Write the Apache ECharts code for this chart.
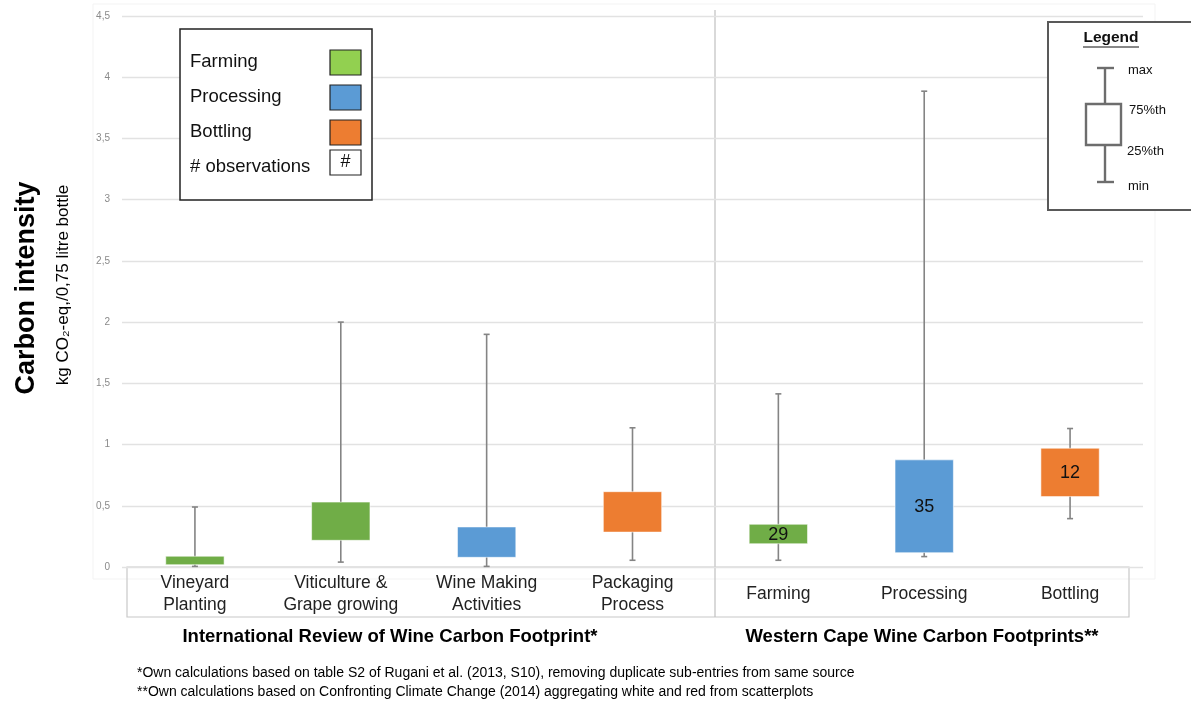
<!DOCTYPE html>
<html>
<head>
<meta charset="utf-8">
<script src="https://cdn.jsdelivr.net/npm/echarts@6/dist/echarts.min.js"></script>
<style>
html,body{margin:0;padding:0;background:#fff;}
#chart{width:1191px;height:702px;}
</style>
</head>
<body>
<div id="chart"></div>
<script>
// ---- data ----
const categories = ['Vineyard\nPlanting', 'Viticulture &\nGrape growing', 'Wine Making\nActivities', 'Packaging\nProcess', 'Farming', 'Processing', 'Bottling'];
const stage = ['Farming', 'Farming', 'Processing', 'Bottling', 'Farming', 'Processing', 'Bottling'];
const minValues = [0.005, 0.04, 0.005, 0.055, 0.055, 0.085, 0.395];
const q1Values  = [0.019, 0.218, 0.079, 0.285, 0.19, 0.117, 0.575];
const q3Values  = [0.088, 0.53, 0.327, 0.615, 0.349, 0.875, 0.97];
const maxValues = [0.49, 2.0, 1.90, 1.137, 1.414, 3.886, 1.131];
const observations = [null, null, null, null, 29, 35, 12];
const yTicks = [0, 0.5, 1, 1.5, 2, 2.5, 3, 3.5, 4, 4.5];
const groupLabels = ['International Review of Wine Carbon Footprint*', 'Western Cape Wine Carbon Footprints**'];
const footnotes = [
  '*Own calculations based on table S2 of Rugani et al. (2013, S10), removing duplicate sub-entries from same source',
  '**Own calculations based on Confronting Climate Change (2014) aggregating white and red from scatterplots'
];
const stageColors = { Farming: '#70AD47', Processing: '#5B9BD5', Bottling: '#ED7D31' };
const legendSwatch = { Farming: '#92D050', Processing: '#5B9BD5', Bottling: '#ED7D31' };

const FONT = '"Liberation Sans", Arial, sans-serif';
const seriesData = categories.map((c, i) => [i, minValues[i], q1Values[i], q3Values[i], maxValues[i], observations[i] == null ? -1 : observations[i]]);

const chart = echarts.init(document.getElementById('chart'));

function renderItem(params, api) {
  const idx = api.value(0);
  const pMin = api.coord([idx, api.value(1)]);
  const pQ1 = api.coord([idx, api.value(2)]);
  const pQ3 = api.coord([idx, api.value(3)]);
  const pMax = api.coord([idx, api.value(4)]);
  const x = pMin[0];
  const bw = api.size([1, 0])[0] * 0.4;
  const cap = 3;
  const col = stageColors[stage[idx]];
  const wStyle = { stroke: '#848484', lineWidth: 1.6 };
  const children = [
    { type: 'line', shape: { x1: x, y1: pMin[1], x2: x, y2: pMax[1] }, style: wStyle },
    { type: 'line', shape: { x1: x - cap, y1: pMin[1], x2: x + cap, y2: pMin[1] }, style: wStyle },
    { type: 'line', shape: { x1: x - cap, y1: pMax[1], x2: x + cap, y2: pMax[1] }, style: wStyle },
    { type: 'rect', shape: { x: x - bw / 2, y: pQ3[1], width: bw, height: pQ1[1] - pQ3[1] },
      style: { fill: col, stroke: 'rgba(255,255,255,0.55)', lineWidth: 1 } }
  ];
  const n = api.value(5);
  if (n >= 0) {
    children.push({ type: 'text', x: x, y: (pQ1[1] + pQ3[1]) / 2 + 1,
      style: { text: String(n), fill: '#111', font: '18px ' + FONT, align: 'center', verticalAlign: 'middle' } });
  }
  return { type: 'group', children };
}

const legendItems = ['Farming', 'Processing', 'Bottling'];
const graphics = [];
// faint plot frame
graphics.push({ type: 'rect', shape: { x: 93, y: 4, width: 1062, height: 575 }, style: { fill: 'none', stroke: '#f3f3f3', lineWidth: 1 }, z: -1 });
// category label box
graphics.push({ type: 'rect', shape: { x: 127, y: 567, width: 1002, height: 50 }, style: { fill: 'none', stroke: '#c8c8c8', lineWidth: 1.2 } });
// separator
graphics.push({ type: 'line', shape: { x1: 715, y1: 10, x2: 715, y2: 617 }, style: { stroke: '#c0c0c0', lineWidth: 1.2 } });
// y-axis titles
graphics.push({ type: 'text', x: 27, y: 288, rotation: Math.PI / 2,
  style: { text: 'Carbon intensity', font: 'bold 27px ' + FONT, fill: '#000', align: 'center', verticalAlign: 'middle' } });
graphics.push({ type: 'text', x: 63, y: 285, rotation: Math.PI / 2,
  style: { text: 'kg CO₂-eq,/0,75 litre bottle', font: '17px ' + FONT, fill: '#000', align: 'center', verticalAlign: 'middle' } });
// group labels
graphics.push({ type: 'text', x: 390, y: 637, style: { text: groupLabels[0], font: 'bold 18.5px ' + FONT, fill: '#000', align: 'center', verticalAlign: 'middle' } });
graphics.push({ type: 'text', x: 922, y: 637, style: { text: groupLabels[1], font: 'bold 18.5px ' + FONT, fill: '#000', align: 'center', verticalAlign: 'middle' } });
// footnotes
graphics.push({ type: 'text', x: 137, y: 673, style: { text: footnotes[0], font: '14px ' + FONT, fill: '#000', align: 'left', verticalAlign: 'middle' } });
graphics.push({ type: 'text', x: 137, y: 692, style: { text: footnotes[1], font: '14px ' + FONT, fill: '#000', align: 'left', verticalAlign: 'middle' } });
// left legend box
graphics.push({ type: 'rect', shape: { x: 180, y: 29, width: 192, height: 171 }, style: { fill: '#fff', stroke: '#222', lineWidth: 1.5 }, z: 10 });
legendItems.forEach((name, i) => {
  const cy = 62 + i * 35;
  graphics.push({ type: 'text', x: 190, y: cy, z: 11, style: { text: name, font: '18.5px ' + FONT, fill: '#111', align: 'left', verticalAlign: 'middle' } });
  graphics.push({ type: 'rect', z: 11, shape: { x: 330, y: cy - 12, width: 31, height: 25 }, style: { fill: legendSwatch[name], stroke: '#222', lineWidth: 1.2 } });
});
graphics.push({ type: 'text', x: 190, y: 167, z: 11, style: { text: '# observations', font: '18.5px ' + FONT, fill: '#111', align: 'left', verticalAlign: 'middle' } });
graphics.push({ type: 'rect', z: 11, shape: { x: 330, y: 150, width: 31, height: 25 }, style: { fill: '#fff', stroke: '#222', lineWidth: 1.2 } });
graphics.push({ type: 'text', x: 345.5, y: 162, z: 12, style: { text: '#', font: '18px ' + FONT, fill: '#111', align: 'center', verticalAlign: 'middle' } });
// right legend box
graphics.push({ type: 'rect', shape: { x: 1048, y: 22, width: 150, height: 188 }, style: { fill: '#fff', stroke: '#595959', lineWidth: 2 }, z: 10 });
graphics.push({ type: 'text', x: 1111, y: 38, z: 11, style: { text: 'Legend', font: 'bold 15.5px ' + FONT, fill: '#111', align: 'center', verticalAlign: 'middle' } });
graphics.push({ type: 'line', z: 11, shape: { x1: 1083, y1: 47, x2: 1139, y2: 47 }, style: { stroke: '#111', lineWidth: 1 } });
const lgStroke = { stroke: '#6d6d6d', lineWidth: 2.4 };
graphics.push({ type: 'line', z: 11, shape: { x1: 1105, y1: 68, x2: 1105, y2: 182 }, style: lgStroke });
graphics.push({ type: 'line', z: 11, shape: { x1: 1097, y1: 68, x2: 1114, y2: 68 }, style: lgStroke });
graphics.push({ type: 'line', z: 11, shape: { x1: 1097, y1: 182, x2: 1114, y2: 182 }, style: lgStroke });
graphics.push({ type: 'rect', z: 12, shape: { x: 1086, y: 104, width: 35, height: 41 }, style: { fill: '#fff', stroke: '#6d6d6d', lineWidth: 2.4 } });
[['max', 1128, 70], ['75%th', 1129, 110], ['25%th', 1127, 151], ['min', 1128, 186]].forEach(t => {
  graphics.push({ type: 'text', x: t[1], y: t[2], z: 12, style: { text: t[0], font: '13px ' + FONT, fill: '#111', align: 'left', verticalAlign: 'middle' } });
});

chart.setOption({
  animation: false,
  backgroundColor: '#fff',
  grid: { left: 122, right: 48, top: 16, bottom: 135, containLabel: false },
  xAxis: {
    type: 'category',
    data: categories,
    axisLine: { show: false },
    axisTick: { show: false },
    splitLine: { show: false },
    axisLabel: { show: true, interval: 0, margin: 27, verticalAlign: 'middle', lineHeight: 22,
      fontSize: 17.5, fontFamily: FONT, color: '#222' }
  },
  yAxis: {
    type: 'value',
    min: yTicks[0],
    max: yTicks[yTicks.length - 1],
    interval: 0.5,
    axisLine: { show: false },
    axisTick: { show: false },
    splitLine: { show: true, lineStyle: { color: '#e2e2e2', width: 1.3 } },
    axisLabel: { fontSize: 10, fontFamily: FONT, color: '#8a8a8a', margin: 12,
      formatter: v => String(v).replace('.', ',') }
  },
  series: [{
    type: 'custom',
    renderItem: renderItem,
    data: seriesData,
    encode: { x: 0, y: [1, 2, 3, 4] },
    z: 5
  }],
  graphic: graphics
});
</script>
</body>
</html>
